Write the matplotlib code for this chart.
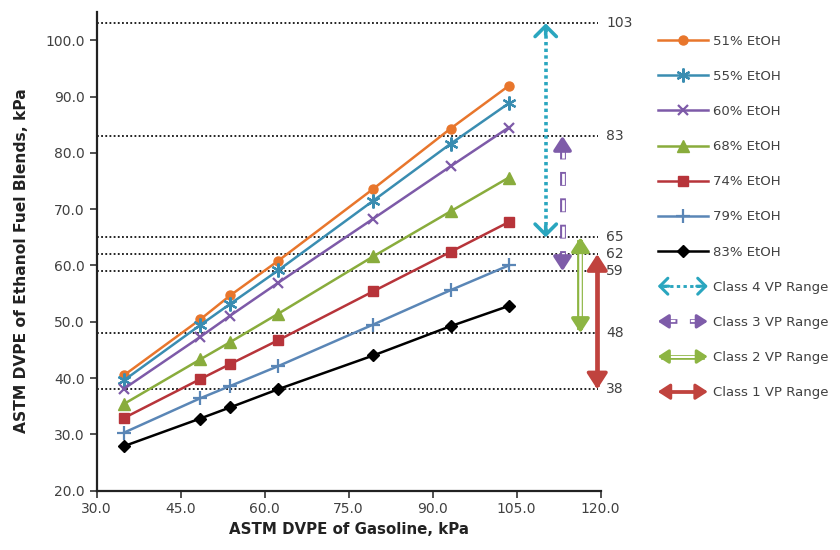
import matplotlib
matplotlib.use("Agg")
import matplotlib.pyplot as plt
from matplotlib.legend_handler import HandlerBase
from matplotlib.lines import Line2D
from matplotlib.patches import FancyArrowPatch

plt.rcParams["lines.scale_dashes"] = False  # dash patterns in points

# gasoline DVPE (x) and blend DVPE (y), kPa
gasoline = [34.9, 48.5, 53.9, 62.4, 79.4, 93.2, 103.6]
blends = ["51% EtOH", "55% EtOH", "60% EtOH", "68% EtOH", "74% EtOH", "79% EtOH", "83% EtOH"]
e51 = [40.5, 50.4, 54.7, 60.8, 73.6, 84.3, 91.9]
e55 = [39.6, 49.4, 53.2, 59.1, 71.5, 81.6, 88.8]
e60 = [38.1, 47.3, 51.1, 56.9, 68.3, 77.6, 84.5]
e68 = [35.4, 43.3, 46.4, 51.4, 61.6, 69.6, 75.6]
e74 = [32.9, 39.8, 42.5, 46.7, 55.4, 62.4, 67.7]
e79 = [30.3, 36.4, 38.6, 42.1, 49.5, 55.6, 60.0]
e83 = [27.9, 32.8, 34.8, 38.0, 44.0, 49.2, 52.8]
series = [e51, e55, e60, e68, e74, e79, e83]

levels = [103, 83, 65, 62, 59, 48, 38]
classes = ["Class 4 VP Range", "Class 3 VP Range", "Class 2 VP Range", "Class 1 VP Range"]
class_lo = [65, 59, 48, 38]
class_hi = [103, 83, 65, 62]
class_x = [110.2, 113.2, 116.4, 119.4]

colors = ["#E8762C", "#3A8DB1", "#7D5AA8", "#89AC3C", "#B7343A", "#5A86B6", "#000000"]
markers = ["o", (6, 2, 0), "x", "^", "s", "+", "D"]
msizes = [6.5, 10, 7, 8, 7.5, 10, 6.5]
class_colors = ["#2AA6BF", "#7E5CA9", "#8DB543", "#C0433E"]
class_shaft = ["dotted", "dashed_double", "double", "solid"]
class_head = ["open", "filled", "filled", "filled"]
class_scale = [17, 13, 13, 15]

GRAY = "#404040"


def head_style(kind):
    if kind == "open":
        return "->,head_length=0.45,head_width=0.45"
    return "-|>,head_length=0.65,head_width=0.42"


def draw_shaft(xs, ys, color, kind, transform=None, scale=1.0):
    kw = {} if transform is None else {"transform": transform}
    arts = []
    if kind == "dotted":
        arts.append(Line2D(xs, ys, color=color, lw=2.6 * scale, ls=(0, (2.4, 2.4)), **kw))
    elif kind == "solid":
        arts.append(Line2D(xs, ys, color=color, lw=3.4 * scale, **kw))
    elif kind == "dashed_double":
        arts.append(Line2D(xs, ys, color=color, lw=4.2 * scale, ls=(0, (10, 9)), **kw))
        arts.append(Line2D(xs, ys, color="white", lw=2.0 * scale, ls=(18, (8, 11)), **kw))
    else:
        arts.append(Line2D(xs, ys, color=color, lw=4.2 * scale, **kw))
        arts.append(Line2D(xs, ys, color="white", lw=1.8 * scale, **kw))
    return arts


class ArrowHandler(HandlerBase):
    def __init__(self, color, shaft, head, scale):
        super().__init__()
        self.color, self.shaft, self.head, self.scale = color, shaft, head, scale

    def create_artists(self, legend, orig, xd, yd, w, h, fs, trans):
        y = h / 2 - yd
        x0, x1 = -xd, -xd + w
        arts = draw_shaft([x0 + 4, x1 - 4], [y, y], self.color, self.shaft, trans, 0.8)
        for a, b in [((x0 + 8, y), (x0, y)), ((x1 - 8, y), (x1, y))]:
            arts.append(FancyArrowPatch(a, b, arrowstyle=head_style(self.head), color=self.color,
                                        lw=2.2, mutation_scale=self.scale, transform=trans,
                                        shrinkA=0, shrinkB=0))
        return arts


fig = plt.figure(figsize=(8.4, 5.5), dpi=100)
ax = fig.add_axes([0.115, 0.108, 0.6, 0.87])

handles = []
for vals, name, c, m, ms in zip(series, blends, colors, markers, msizes):
    mew = 1.6 if m in ("x", "+") or isinstance(m, tuple) else 1.0
    ln, = ax.plot(gasoline, vals, color=c, lw=1.8, marker=m, ms=ms, mew=mew,
                  mec=c, mfc=c, label=name, zorder=3)
    handles.append(ln)

ax.hlines(levels, 30, 119.6, colors="#222222", linestyles=(0, (1.3, 1.7)), lw=1.4, zorder=1)
for lv in levels:
    ax.text(121.0, lv, str(lv), va="center", ha="left", fontsize=10, color=GRAY, clip_on=False)

for x, lo, hi, c, sh, hd, sc in zip(class_x, class_lo, class_hi, class_colors,
                                     class_shaft, class_head, class_scale):
    for a in draw_shaft([x, x], [lo + 1.0, hi - 1.0], c, sh):
        a.set_clip_on(False)
        ax.add_line(a)
    for tip, tail in [(hi, hi - 2.0), (lo, lo + 2.0)]:
        ax.annotate("", xy=(x, tip), xytext=(x, tail), annotation_clip=False,
                    arrowprops=dict(arrowstyle=head_style(hd), color=c, lw=2.6,
                                    mutation_scale=sc, shrinkA=0, shrinkB=0))

ax.set_xlim(30, 120)
ax.set_ylim(20, 105)
ax.set_xticks(range(30, 121, 15))
ax.set_yticks(range(20, 101, 10))
ax.xaxis.set_major_formatter(lambda v, p: f"{v:.1f}")
ax.yaxis.set_major_formatter(lambda v, p: f"{v:.1f}")
ax.tick_params(direction="out", length=5, width=1.2, colors="#333333", labelsize=10,
               labelcolor=GRAY)
for s in ("top", "right"):
    ax.spines[s].set_visible(False)
for s in ("left", "bottom"):
    ax.spines[s].set_color("#222222")
    ax.spines[s].set_linewidth(1.6)

ax.set_xlabel("ASTM DVPE of Gasoline, kPa", fontsize=10.8, fontweight="bold", color="#222222")
ax.set_ylabel("ASTM DVPE of Ethanol Fuel Blends, kPa", fontsize=11.2, fontweight="bold",
              color="#222222", labelpad=8)
ax.yaxis.set_label_coords(-0.135, 0.48)

proxies = [Line2D([], [], color=c) for c in class_colors]
hmap = {p: ArrowHandler(c, sh, hd, sc * 0.75)
        for p, c, sh, hd, sc in zip(proxies, class_colors, class_shaft, class_head, class_scale)}
fig.legend(handles + proxies, blends + classes, handler_map=hmap, loc="upper left",
           bbox_to_anchor=(0.783, 0.937), frameon=False, fontsize=9.5, labelcolor=GRAY,
           handlelength=3.8, handletextpad=0.4, labelspacing=1.68, borderpad=0, borderaxespad=0)

fig.savefig("out.png", dpi=100)
